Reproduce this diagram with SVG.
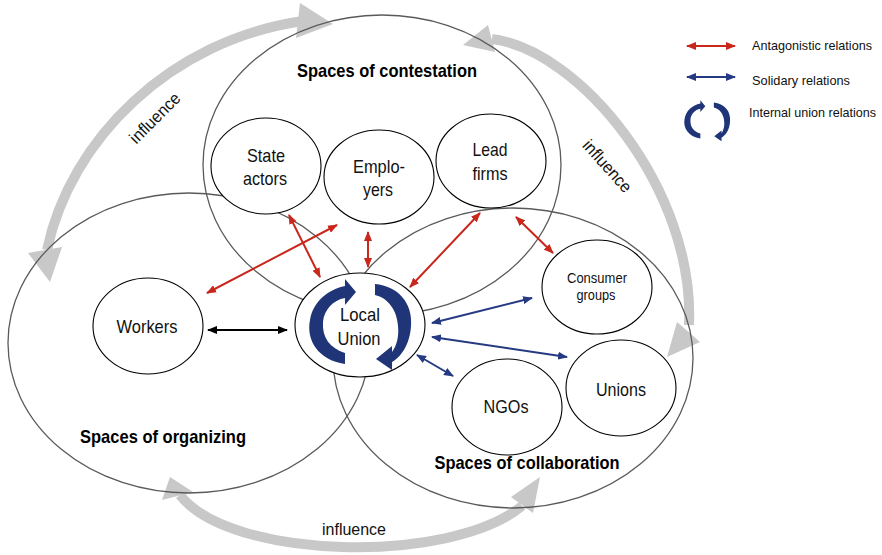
<svg xmlns="http://www.w3.org/2000/svg" xmlns:xlink="http://www.w3.org/1999/xlink" width="882" height="555" viewBox="0 0 882 555">
<style>
.space{fill:none;stroke:#5a5a5a;stroke-width:1.3}
.node{fill:#fff;stroke:#000;stroke-width:1.1}
.infl{fill:none;stroke:#c8c8c8;stroke-width:10}
.head{fill:#c8c8c8}
.t{font-family:"Liberation Sans",Arial,sans-serif;font-size:19px;fill:#111;text-anchor:middle}
.ts{font-family:"Liberation Sans",Arial,sans-serif;font-size:14px;fill:#111;text-anchor:middle}
.b{font-family:"Liberation Sans",Arial,sans-serif;font-size:19px;font-weight:bold;fill:#000;text-anchor:middle}
.lg{font-family:"Liberation Sans",Arial,sans-serif;font-size:13px;fill:#111}
.inf{font-family:"Liberation Sans",Arial,sans-serif;font-size:17px;fill:#111;text-anchor:middle}
.red{stroke:#c9261c;stroke-width:2;fill:none;marker-start:url(#hr);marker-end:url(#hr)}
.blue{stroke:#253a82;stroke-width:2;fill:none;marker-start:url(#hb);marker-end:url(#hb)}
.blk{stroke:#000;stroke-width:2;fill:none;marker-start:url(#hk);marker-end:url(#hk)}
.cyc{fill:#1f3577}
</style>
<defs>
<marker id="hr" markerUnits="userSpaceOnUse" markerWidth="10" markerHeight="8" refX="9" refY="4" orient="auto-start-reverse"><path d="M0,0 L10,4 L0,8 z" fill="#c9261c"/></marker>
<marker id="hb" markerUnits="userSpaceOnUse" markerWidth="10" markerHeight="8" refX="9" refY="4" orient="auto-start-reverse"><path d="M0,0 L10,4 L0,8 z" fill="#253a82"/></marker>
<marker id="hk" markerUnits="userSpaceOnUse" markerWidth="10" markerHeight="8" refX="9" refY="4" orient="auto-start-reverse"><path d="M0,0 L10,4 L0,8 z" fill="#000"/></marker>
<g id="cycle">
<path class="cyc" d="M345,364 C318,360 306,340 310,320 C313,302 327,290 345,286 L345,279 L356,292 L345,305 L345,298 C333,300 324,310 323,322 C322,338 330,348 345,353 Z"/>
<path class="cyc" d="M375,284 C398,286 413,303 411,326 C410,345 400,358 392,362 L392,370 L376,359 L392,346 L392,352 C397,345 399,336 398,326 C397,310 388,298 375,295 Z"/>
</g>
</defs>

<g id="influence-arrows">
<path class="infl" d="M47,250 C70,140 170,40 303,21"/>
<polygon class="head" points="28,253 62,247 50,282"/>
<polygon class="head" points="300,3 333,24 296,38"/>
<path class="infl" d="M492,39 C580,50 695,190 689,325"/>
<polygon class="head" points="463,45 488,25 495,52"/>
<polygon class="head" points="667,357 677,322 700,342"/>
<path class="infl" d="M180,495 C230,560 450,565 522,506"/>
<polygon class="head" points="170,477 162,500 193,492"/>
<polygon class="head" points="540,477 511,497 533,513"/>
<text class="inf" transform="translate(159,122) rotate(-45)" textLength="64" lengthAdjust="spacingAndGlyphs">influence</text>
<text class="inf" transform="translate(603,170) rotate(48)" textLength="64" lengthAdjust="spacingAndGlyphs">influence</text>
<text class="inf" x="354" y="535" textLength="64" lengthAdjust="spacingAndGlyphs">influence</text>
</g>

<g id="spaces">
<g id="space-contestation">
<ellipse class="space" cx="382" cy="165" rx="179" ry="150"/>
<text class="b" x="387" y="77" textLength="180" lengthAdjust="spacingAndGlyphs">Spaces of contestation</text>
</g>
<g id="space-organizing">
<ellipse class="space" cx="189" cy="343" rx="181" ry="150"/>
<text class="b" x="163" y="443" textLength="166" lengthAdjust="spacingAndGlyphs">Spaces of organizing</text>
</g>
<g id="space-collaboration">
<ellipse class="space" cx="513" cy="358" rx="180" ry="150"/>
<text class="b" x="527" y="469" textLength="185" lengthAdjust="spacingAndGlyphs">Spaces of collaboration</text>
</g>
</g>

<g id="connectors">
<path class="red" d="M289,215 L320,277"/>
<path class="red" d="M207,293 L337,225"/>
<path class="red" d="M368,232 L368,267"/>
<path class="red" d="M410,287 L480,213"/>
<path class="red" d="M516,217 L553,253"/>
<path class="blue" d="M432,323 L532,298"/>
<path class="blue" d="M432,337 L567,357"/>
<path class="blue" d="M417,355 L453,376"/>
<path class="blk" d="M208,330 L287,330"/>
</g>

<g id="state-actors">
<ellipse class="node" cx="266" cy="166" rx="55" ry="48"/>
<text class="t" x="266" y="162" textLength="38" lengthAdjust="spacingAndGlyphs">State</text>
<text class="t" x="265" y="185" textLength="44" lengthAdjust="spacingAndGlyphs">actors</text>
</g>
<g id="employers">
<ellipse class="node" cx="379" cy="177" rx="55" ry="47"/>
<text class="t" x="379" y="173" textLength="52" lengthAdjust="spacingAndGlyphs">Emplo-</text>
<text class="t" x="378" y="196" textLength="30" lengthAdjust="spacingAndGlyphs">yers</text>
</g>
<g id="lead-firms">
<ellipse class="node" cx="491" cy="161" rx="55" ry="47"/>
<text class="t" x="490" y="156" textLength="35" lengthAdjust="spacingAndGlyphs">Lead</text>
<text class="t" x="490" y="180" textLength="35" lengthAdjust="spacingAndGlyphs">firms</text>
</g>
<g id="consumer-groups">
<ellipse class="node" cx="597" cy="287" rx="55" ry="47"/>
<text class="ts" x="597" y="283" textLength="60" lengthAdjust="spacingAndGlyphs">Consumer</text>
<text class="ts" x="596" y="300" textLength="39" lengthAdjust="spacingAndGlyphs">groups</text>
</g>
<g id="unions">
<ellipse class="node" cx="621" cy="388" rx="55" ry="48"/>
<text class="t" x="621" y="396" textLength="50" lengthAdjust="spacingAndGlyphs">Unions</text>
</g>
<g id="ngos">
<ellipse class="node" cx="507" cy="407" rx="55" ry="48"/>
<text class="t" x="506" y="413" textLength="45" lengthAdjust="spacingAndGlyphs">NGOs</text>
</g>
<g id="workers">
<ellipse class="node" cx="148" cy="326" rx="55" ry="48"/>
<text class="t" x="147" y="333" textLength="61" lengthAdjust="spacingAndGlyphs">Workers</text>
</g>
<g id="local-union">
<ellipse class="node" cx="360" cy="325" rx="65" ry="52"/>
<use xlink:href="#cycle" href="#cycle"/>
<text class="t" x="360" y="321" textLength="40" lengthAdjust="spacingAndGlyphs">Local</text>
<text class="t" x="359" y="345" textLength="43" lengthAdjust="spacingAndGlyphs">Union</text>
</g>

<g id="legend">
<path class="red" d="M687,46 L735,46"/>
<text class="lg" x="752" y="50" textLength="120" lengthAdjust="spacingAndGlyphs">Antagonistic relations</text>
<path class="blue" d="M687,77 L735,77"/>
<text class="lg" x="752" y="85" textLength="98" lengthAdjust="spacingAndGlyphs">Solidary relations</text>
<use xlink:href="#cycle" href="#cycle" transform="translate(708,121) scale(0.45) translate(-362,-325)"/>
<text class="lg" x="749" y="117" textLength="127" lengthAdjust="spacingAndGlyphs">Internal union relations</text>
</g>
</svg>
